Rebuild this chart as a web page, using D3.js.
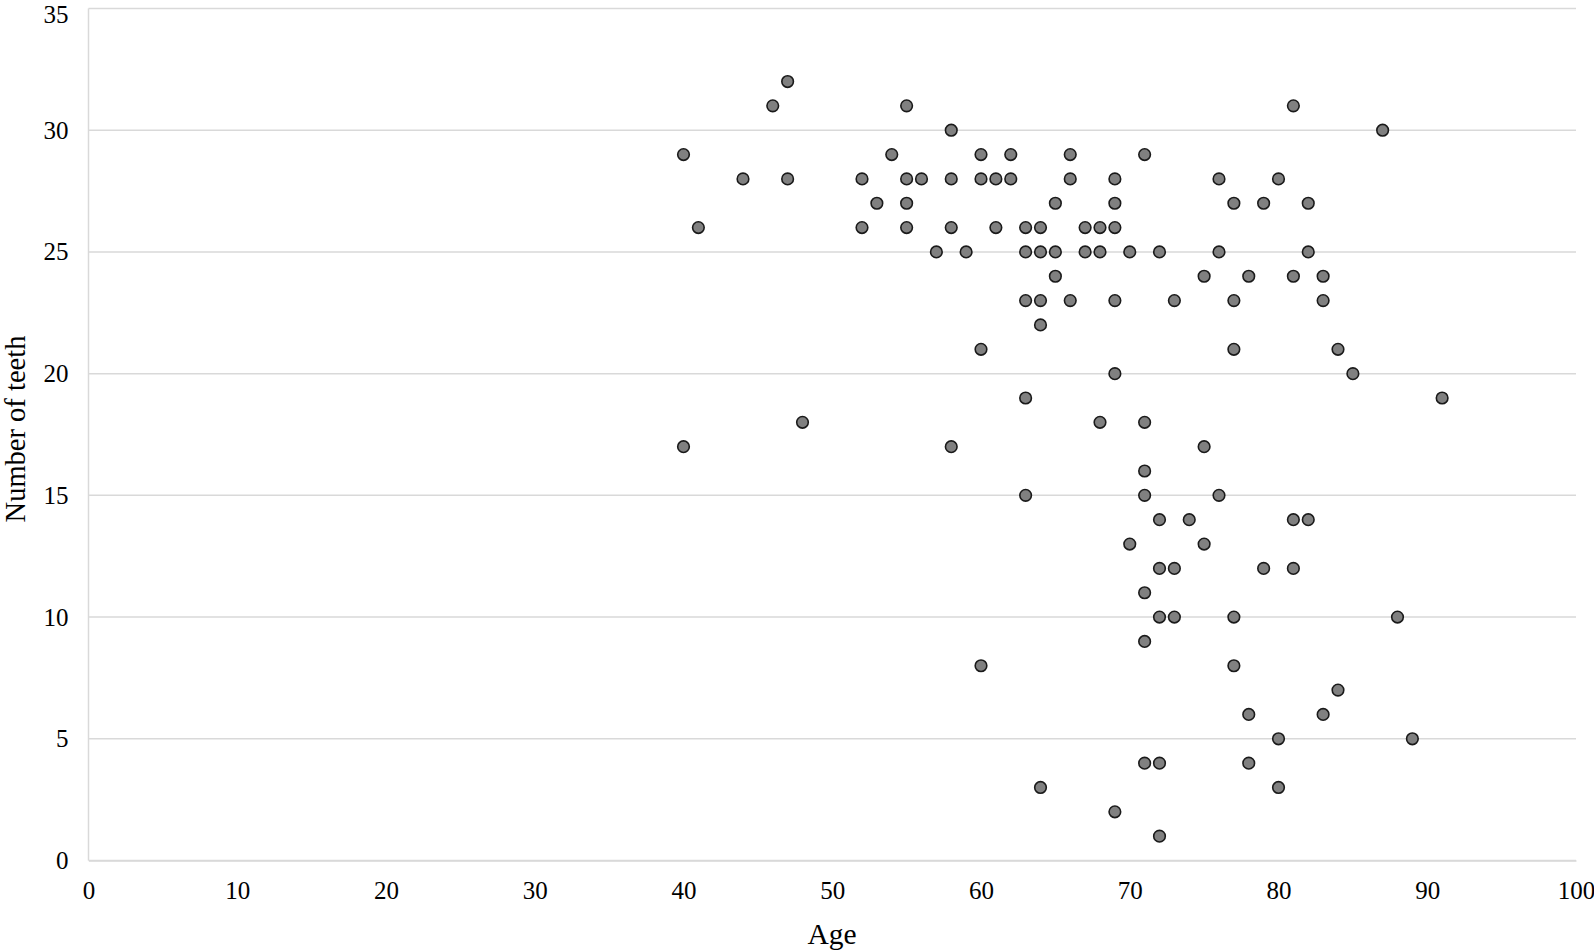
<!DOCTYPE html>
<html>
<head>
<meta charset="utf-8">
<script src="https://cdn.jsdelivr.net/npm/d3@7"></script>
<style>
  body { margin: 0; background: #fff; }
  text { font-family: "Liberation Serif", "Times New Roman", serif; fill: #000; }
</style>
</head>
<body>
<svg id="chart" width="1594" height="952"></svg>
<script>
// Age and number of teeth
const ages = [
  47, 46, 55, 81, 58, 87,
  40, 54, 60, 62, 66, 71,
  44, 47, 52, 55, 56, 58, 60, 61, 62, 66, 69, 76, 80,
  53, 55, 65, 69, 77, 79, 82,
  41, 52, 55, 58, 61, 63, 64, 67, 68, 69,
  57, 59, 63, 64, 65, 67, 68, 70, 72, 76, 82,
  65, 75, 78, 81, 83,
  63, 64, 66, 69, 73, 77, 83,
  64, 60, 77, 84, 69, 85, 63, 91,
  48, 68, 71, 40, 58, 75, 71,
  63, 71, 76, 72, 74, 81, 82, 70, 75,
  72, 73, 79, 81, 71, 72, 73, 77, 88,
  71, 60, 77, 84, 78, 83, 80, 89,
  71, 72, 78, 64, 80, 69, 72
];
const teeth = [
  32, 31, 31, 31, 30, 30,
  29, 29, 29, 29, 29, 29,
  28, 28, 28, 28, 28, 28, 28, 28, 28, 28, 28, 28, 28,
  27, 27, 27, 27, 27, 27, 27,
  26, 26, 26, 26, 26, 26, 26, 26, 26, 26,
  25, 25, 25, 25, 25, 25, 25, 25, 25, 25, 25,
  24, 24, 24, 24, 24,
  23, 23, 23, 23, 23, 23, 23,
  22, 21, 21, 21, 20, 20, 19, 19,
  18, 18, 18, 17, 17, 17, 16,
  15, 15, 15, 14, 14, 14, 14, 13, 13,
  12, 12, 12, 12, 11, 10, 10, 10, 10,
  9, 8, 8, 7, 6, 6, 5, 5,
  4, 4, 4, 3, 3, 2, 1
];
const xTicks = [0, 10, 20, 30, 40, 50, 60, 70, 80, 90, 100];
const yTicks = [0, 5, 10, 15, 20, 25, 30, 35];

const svg = d3.select('#chart');

const x = d3.scaleLinear().domain([0, 100]).range([88.5, 1576]);
const y = d3.scaleLinear().domain([0, 35]).range([860.5, 8.5]);

// horizontal gridlines
svg.append('g')
  .selectAll('line')
  .data(yTicks)
  .enter()
  .append('line')
  .attr('x1', x(0))
  .attr('x2', x(100))
  .attr('y1', d => y(d))
  .attr('y2', d => y(d))
  .attr('stroke', '#d9d9d9')
  .attr('stroke-width', 1.5);

// left axis line
svg.append('line')
  .attr('x1', x(0)).attr('x2', x(0))
  .attr('y1', y(0)).attr('y2', y(35))
  .attr('stroke', '#d9d9d9')
  .attr('stroke-width', 1.5);

// x axis
const xAxis = svg.append('g')
  .attr('transform', `translate(0,${y(0)})`)
  .call(d3.axisBottom(x).tickValues(xTicks).tickSize(0).tickPadding(21));
xAxis.select('.domain').attr('stroke', '#d9d9d9').attr('stroke-width', 1.5);
xAxis.selectAll('text').style('font-size', '25px').attr('fill', '#000');

// y axis
const yAxis = svg.append('g')
  .attr('transform', `translate(${x(0)},0)`)
  .call(d3.axisLeft(y).tickValues(yTicks).tickSize(0).tickPadding(20));
yAxis.select('.domain').remove();
yAxis.selectAll('text').style('font-size', '25px').attr('fill', '#000');
// top label sits right at the edge, nudge it so it is not clipped
yAxis.selectAll('.tick').filter(d => d === 35).select('text').attr('y', 6);

// points
svg.append('g')
  .selectAll('circle')
  .data(ages.map((a, i) => ({ age: a, teeth: teeth[i] })))
  .enter()
  .append('circle')
  .attr('cx', d => x(d.age))
  .attr('cy', d => y(d.teeth))
  .attr('r', 5.8)
  .attr('fill', '#808080')
  .attr('stroke', '#1a1a1a')
  .attr('stroke-width', 1.6);

// axis titles
svg.append('text')
  .attr('x', 832)
  .attr('y', 944)
  .attr('text-anchor', 'middle')
  .style('font-size', '29.5px')
  .text('Age');

svg.append('text')
  .attr('transform', 'translate(25,429) rotate(-90)')
  .attr('text-anchor', 'middle')
  .style('font-size', '28.5px')
  .text('Number of teeth');
</script>
</body>
</html>
